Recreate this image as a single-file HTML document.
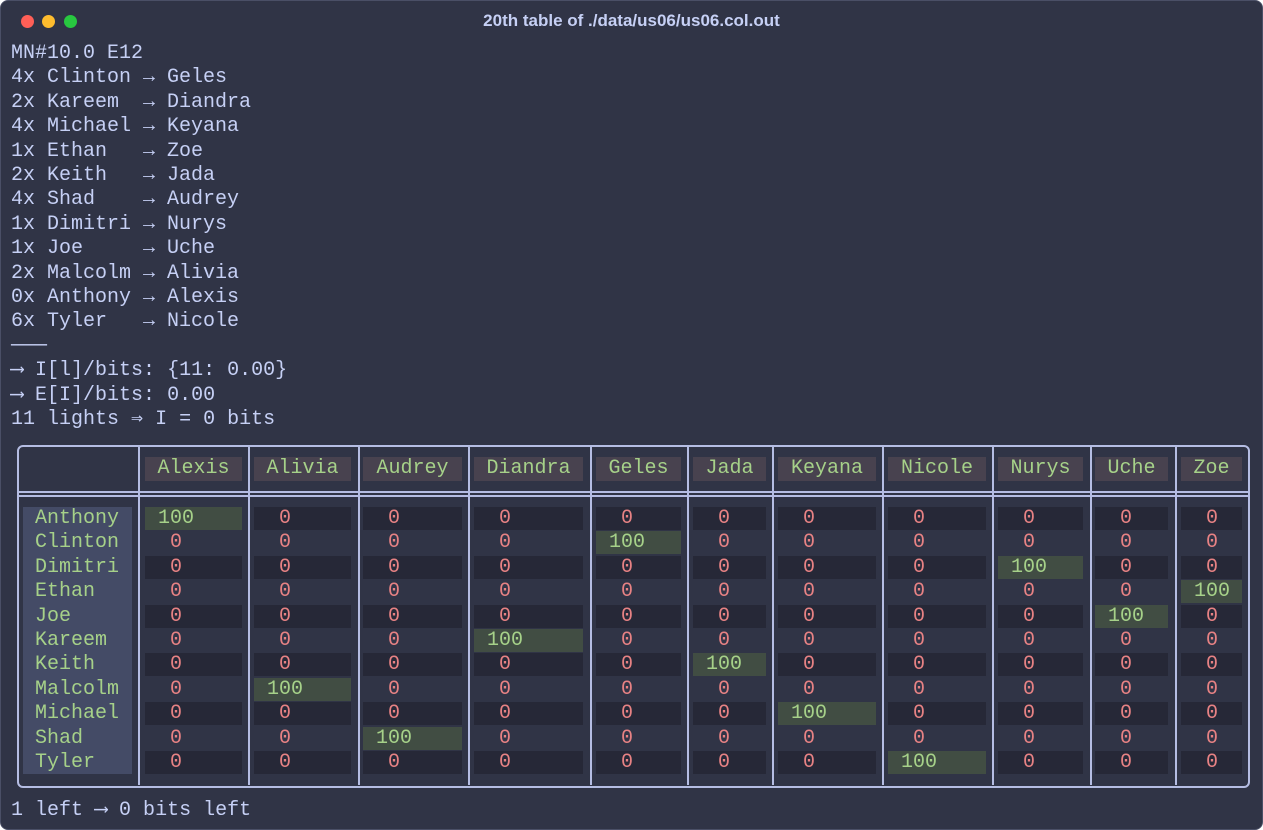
<!DOCTYPE html>
<html><head><meta charset="utf-8">
<style>
html,body{margin:0;padding:0;background:#fff;}
#win{position:absolute;left:0;top:0;width:1261px;height:828px;background:#303446;border:1px solid #4a4f66;border-radius:8px;overflow:hidden;font-family:"Liberation Mono","DejaVu Sans Mono",monospace;color:#c6d0f5;}
.dot{position:absolute;top:14px;width:13px;height:13px;border-radius:50%;}
#title{position:absolute;top:10px;left:0;width:1261px;text-align:center;font:bold 17px "Liberation Sans",sans-serif;color:#c6d0f5;}
#log{position:absolute;left:10px;top:41px;margin:0;font-size:20px;line-height:24.4px;white-space:pre;font-family:inherit;}
.abs{position:absolute;}
.t{position:absolute;font-size:20px;line-height:24px;white-space:pre;}
</style></head><body>
<div id="win">
<div class="dot" style="left:20px;background:#ff5f57"></div>
<div class="dot" style="left:41px;background:#febc2e"></div>
<div class="dot" style="left:63px;background:#28c840"></div>
<div id="title">20th table of ./data/us06/us06.col.out</div>
<pre id="log">MN#10.0 E12
4x Clinton → Geles
2x Kareem  → Diandra
4x Michael → Keyana
1x Ethan   → Zoe
2x Keith   → Jada
4x Shad    → Audrey
1x Dimitri → Nurys
1x Joe     → Uche
2x Malcolm → Alivia
0x Anthony → Alexis
6x Tyler   → Nicole
───
⟶ I[l]/bits: {11: 0.00}
⟶ E[I]/bits: 0.00
11 lights ⇒ I = 0 bits</pre>
<div id="table" class="abs" style="left:0;top:0"></div>
<div class="t" style="left:10px;top:798px">1 left ⟶ 0 bits left</div>
</div>
<script>
const cols=["Alexis","Alivia","Audrey","Diandra","Geles","Jada","Keyana","Nicole","Nurys","Uche","Zoe"];
const rows=["Anthony","Clinton","Dimitri","Ethan","Joe","Kareem","Keith","Malcolm","Michael","Shad","Tyler"];
const matches=["Alexis","Geles","Nurys","Zoe","Uche","Diandra","Jada","Alivia","Keyana","Audrey","Nicole"];
const cellL=[144,253,362,473,595,692,777,887,997,1094,1180];
const cellR=[241,350,461,582,680,765,875,985,1082,1167,1241];
const seps=[137,247,357,467,589,686,771,881,991,1089,1174];
const T=document.getElementById('table');
function box(x,y,w,h,bg){const d=document.createElement('div');d.className='abs';d.style.cssText=`left:${x}px;top:${y}px;width:${w}px;height:${h}px;background:${bg}`;T.appendChild(d);return d;}
function txt(s,x,y,c,center,w){const d=document.createElement('div');d.className='t';d.textContent=s;d.style.left=x+'px';d.style.top=y+'px';d.style.color=c;if(center){d.style.width=w+'px';d.style.textAlign='center';}T.appendChild(d);return d;}
// outer border
const ob=box(16,444,1229,339,'transparent');ob.style.border='2px solid #b5bde3';ob.style.borderRadius='6px';

const l1=box(18,490,1229,2,'#b5bde3');

const l2=box(18,494,1229,2,'#b5bde3');

seps.forEach(x=>{const s=box(x,445,2,339,'#b5bde3');
});
const lb=box(22,506,109,267,'#444b66');

cols.forEach((c,j)=>{
 const h=box(cellL[j],456,cellR[j]-cellL[j],24,'#48424f');
 
 const t=txt(c,cellL[j],456,'#a6d189',true,cellR[j]-cellL[j]);
 
});
rows.forEach((r,i)=>{
 const y=506+i*24.4;
 const lt=txt(r,34,y,'#a6d189');
 
 cols.forEach((c,j)=>{
  const hit=matches[i]===c;
  if(hit||i%2===0){const b=box(cellL[j],y,cellR[j]-cellL[j],23,hit?'#414d43':'#262837');
   }
  const v=hit?'100':'0';
  const t=txt(v,cellL[j]+13,y,hit?'#a6d189':'#e78284',true,36);
  
 });
});
</script>
</body></html>
